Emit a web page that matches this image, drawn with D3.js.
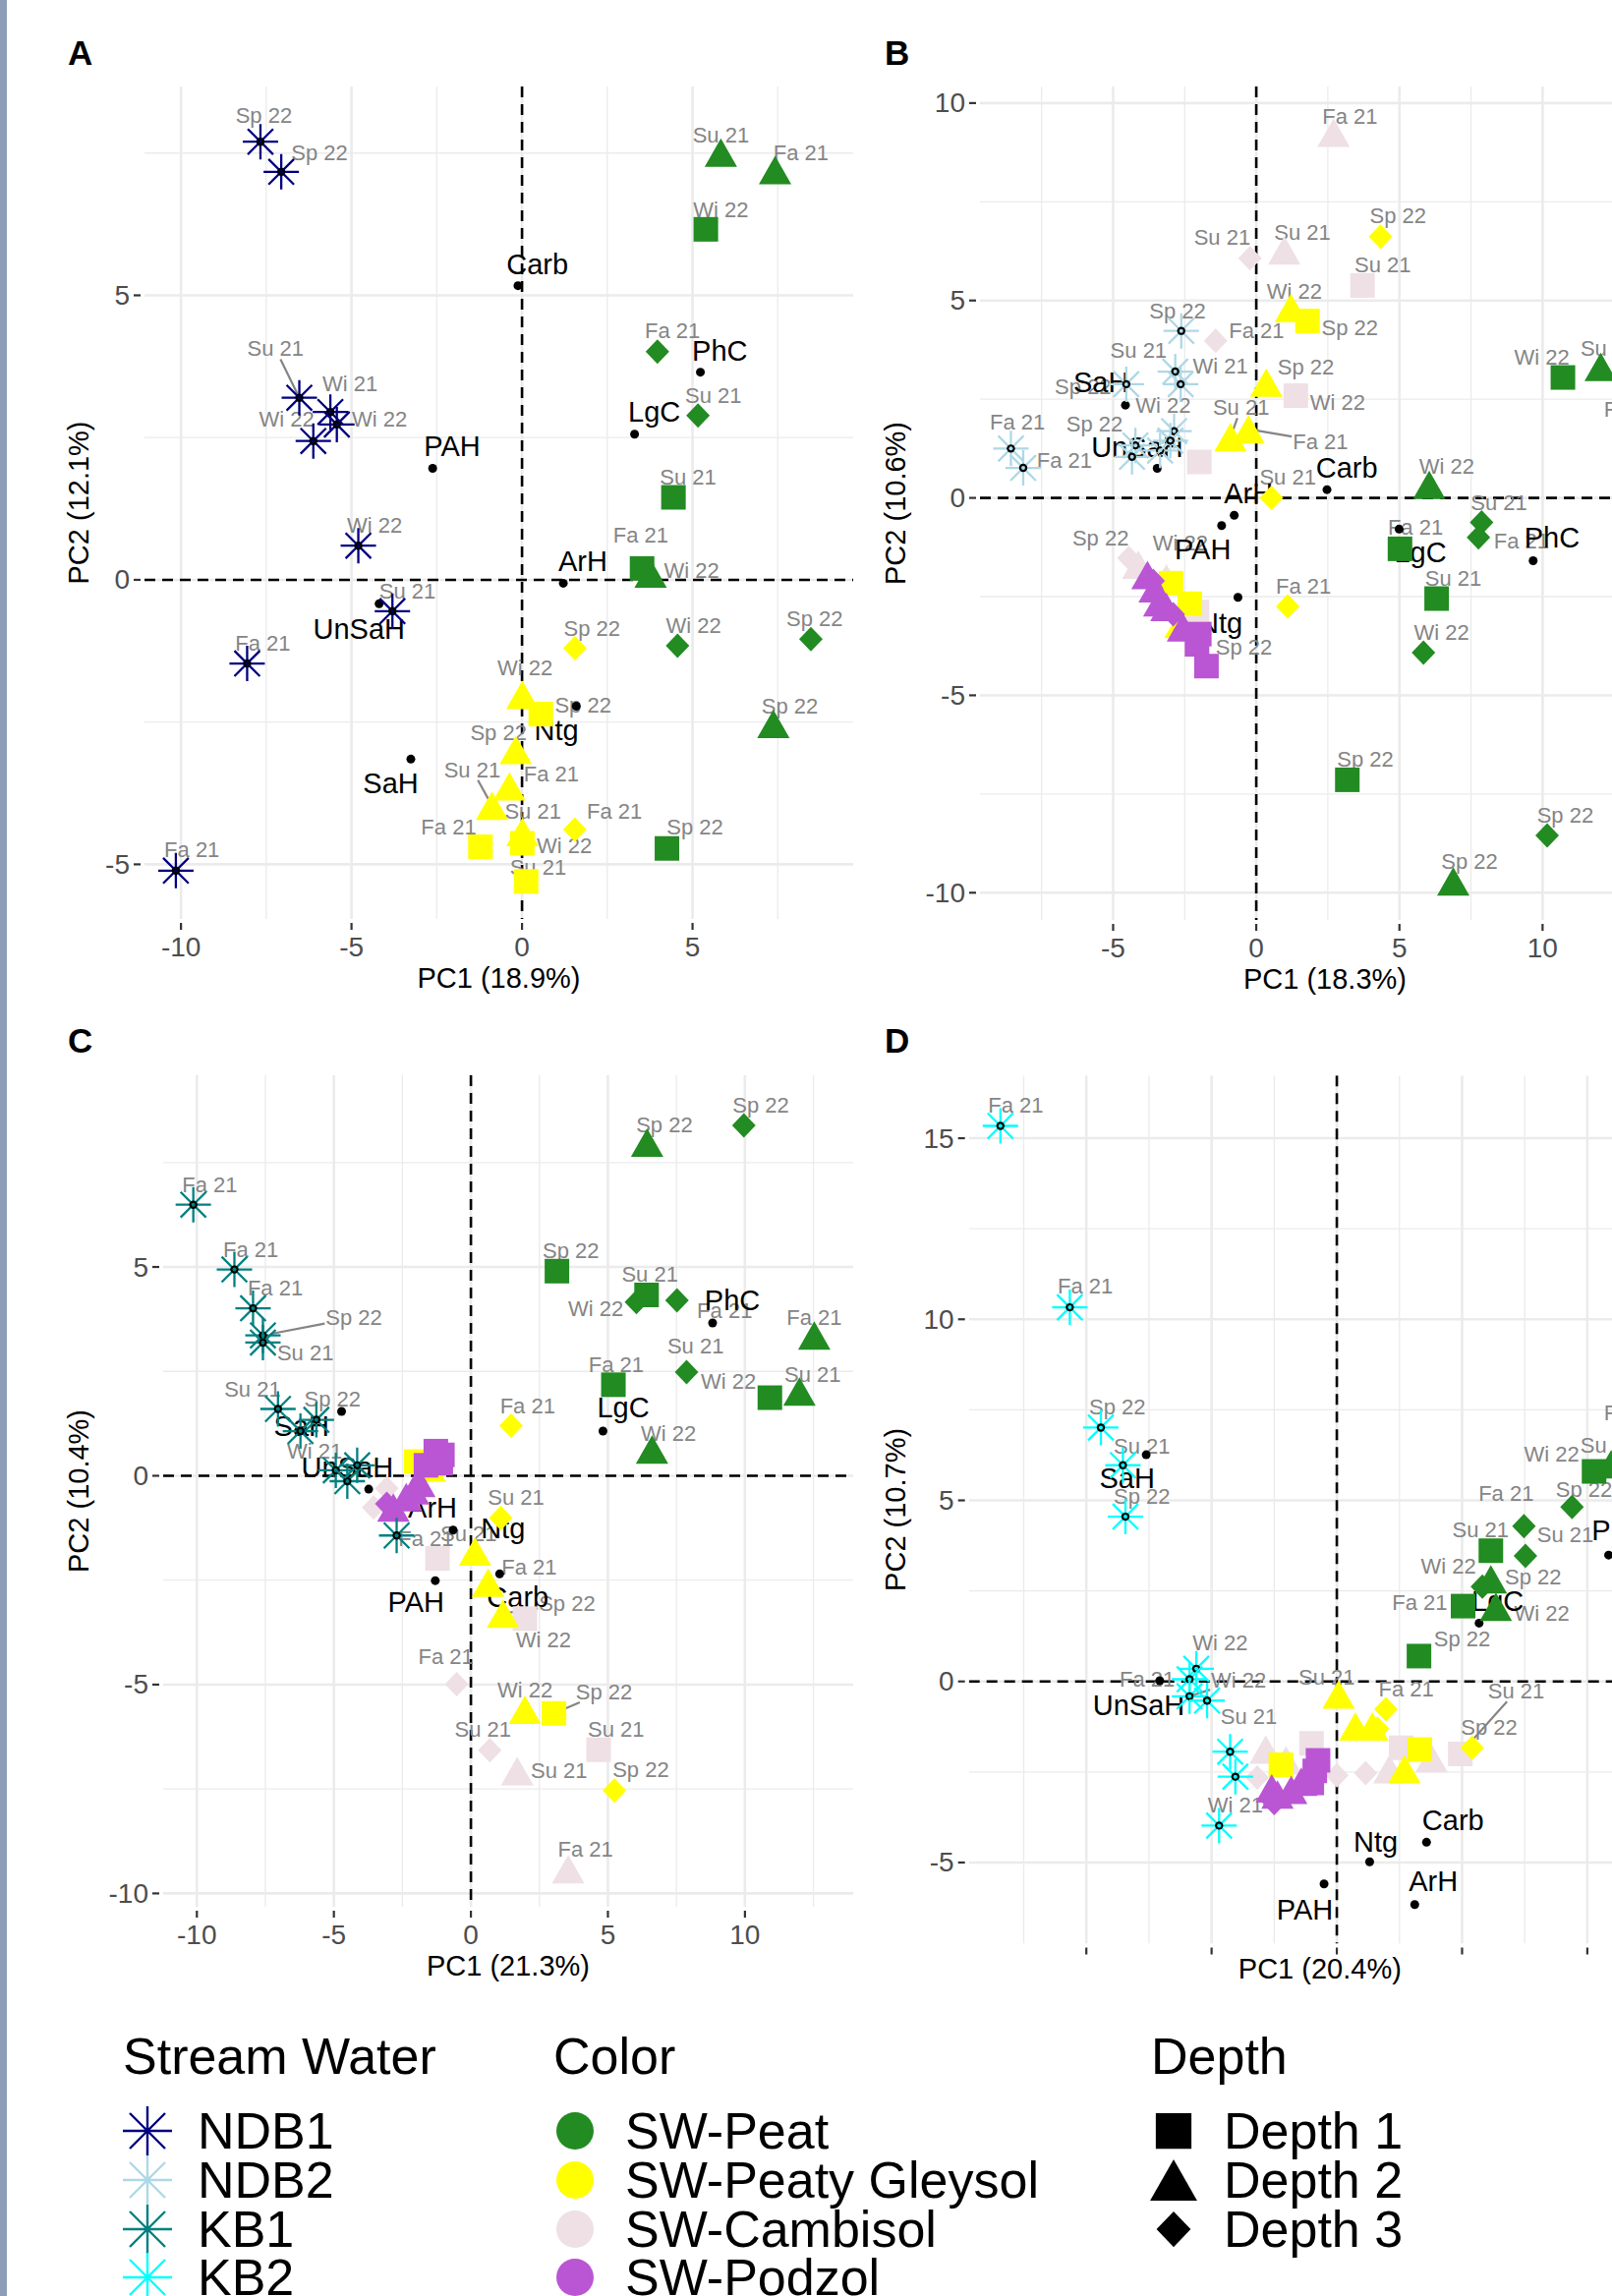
<!DOCTYPE html>
<html><head><meta charset="utf-8">
<script src="https://cdn.jsdelivr.net/npm/d3@7"></script>
<style>body{margin:0;background:#fff}svg{display:block}</style>
</head><body>
<svg id="c" width="1640" height="2336"></svg>
<script>
// ---------- DATA ----------
// sample rows: [group, depthShape(S=Depth1,T=Depth2,D=Depth3,X=stream), PC1, PC2, label, labelPC1, labelPC2, segment]
const samplesA = [
['NDB1','X',-7.67,7.70,'Sp 22',-7.57,8.16,0],
['NDB1','X',-7.06,7.17,'Sp 22',-5.94,7.51,0],
['NDB1','X',-6.53,3.20,'Su 21',-7.23,4.06,1],
['NDB1','X',-5.62,2.95,'Wi 21',-5.04,3.44,0],
['NDB1','X',-5.43,2.73,'Wi 22',-4.18,2.82,0],
['NDB1','X',-6.12,2.44,'Wi 22',-6.90,2.82,0],
['NDB1','X',-4.80,0.60,'Wi 22',-4.32,0.96,0],
['NDB1','X',-3.80,-0.55,'Su 21',-3.36,-0.20,0],
['NDB1','X',-8.06,-1.47,'Fa 21',-7.60,-1.11,0],
['NDB1','X',-10.15,-5.11,'Fa 21',-9.68,-4.75,0],
['Peat','T',5.83,7.51,'Su 21',5.83,7.81,0],
['Peat','T',7.42,7.20,'Fa 21',8.18,7.50,0],
['Peat','S',5.39,6.16,'Wi 22',5.83,6.51,0],
['Peat','D',3.97,4.01,'Fa 21',4.41,4.38,0],
['Peat','D',5.16,2.89,'Su 21',5.61,3.24,0],
['Peat','S',4.44,1.45,'Su 21',4.87,1.80,0],
['Peat','S',3.52,0.20,'Fa 21',3.48,0.78,0],
['Peat','T',3.77,0.11,'Wi 22',4.97,0.16,0],
['Peat','D',4.56,-1.16,'Wi 22',5.03,-0.81,0],
['Peat','D',8.47,-1.04,'Sp 22',8.58,-0.69,0],
['Peat','T',7.37,-2.53,'Sp 22',7.85,-2.22,0],
['Peat','S',4.25,-4.72,'Sp 22',5.07,-4.35,0],
['Gleysol','D',1.55,-1.20,'Sp 22',2.05,-0.85,0],
['Gleysol','T',0.01,-2.02,'Wi 22',0.09,-1.55,0],
['Gleysol','S',0.55,-2.36,'Sp 22',1.79,-2.20,0],
['Gleysol','T',-0.18,-2.99,'Sp 22',-0.69,-2.68,0],
['Gleysol','T',-0.37,-3.63,'Fa 21',0.86,-3.42,0],
['Gleysol','T',-0.88,-3.97,'Su 21',-1.46,-3.34,1],
['Gleysol','D',1.55,-4.39,'Fa 21',2.71,-4.06,0],
['Gleysol','T',0.01,-4.43,'Su 21',0.32,-4.06,0],
['Gleysol','S',-1.22,-4.69,'Fa 21',-2.15,-4.35,0],
['Gleysol','S',0.01,-4.63,'Wi 22',1.24,-4.68,0],
['Gleysol','S',0.12,-5.30,'Su 21',0.47,-5.06,0]
];
// loading rows: [variable, PC1, PC2, labelPC1, labelPC2]
const loadingsA = [
['Carb',-0.12,5.17,0.45,5.55],
['PhC',5.23,3.65,5.80,4.03],
['LgC',3.30,2.56,3.88,2.95],
['PAH',-2.62,1.96,-2.05,2.34],
['ArH',1.21,-0.06,1.78,0.33],
['UnSaH',-4.19,-0.42,-4.78,-0.86],
['SaH',-3.26,-3.15,-3.85,-3.57],
['Ntg',1.59,-2.22,1.01,-2.65]
];

const samplesB = [
['NDB2','X',-2.62,4.23,'Sp 22',-2.75,4.73,0],
['NDB2','X',-2.83,3.20,'Su 21',-4.11,3.73,0],
['NDB2','X',-2.64,2.88,'Wi 21',-1.25,3.34,0],
['NDB2','X',-4.54,2.88,'Sp 22',-6.05,2.82,0],
['NDB2','X',-2.87,1.69,'Wi 22',-3.25,2.35,0],
['NDB2','X',-8.57,1.25,'Fa 21',-8.34,1.91,0],
['NDB2','X',-8.14,0.76,'Fa 21',-6.70,0.96,0],
['NDB2','X',-4.22,1.33,'Sp 22',-5.65,1.88,0],
['NDB2','X',-4.34,1.04,'',null,null,0],
['NDB2','X',-3.36,1.20,'',null,null,0],
['NDB2','X',-3.00,1.45,'',null,null,0],
['Peat','S',10.71,3.05,'Wi 22',9.97,3.57,0],
['Peat','T',12.03,3.32,'Su 21',12.31,3.78,0],
['Peat','T',13.30,1.70,'Fa 21',13.11,2.24,0],
['Peat','T',6.04,0.33,'Wi 22',6.65,0.79,0],
['Peat','D',7.87,-0.62,'Su 21',8.48,-0.12,0],
['Peat','D',7.76,-1.00,'Fa 21',9.26,-1.09,0],
['Peat','S',5.02,-1.29,'Fa 21',5.56,-0.75,0],
['Peat','S',6.30,-2.55,'Su 21',6.88,-2.04,0],
['Peat','D',5.84,-3.92,'Wi 22',6.47,-3.41,0],
['Peat','S',3.18,-7.14,'Sp 22',3.81,-6.62,0],
['Peat','D',10.16,-8.55,'Sp 22',10.79,-8.04,0],
['Peat','T',6.88,-9.71,'Sp 22',7.45,-9.21,0],
['Gleysol','D',4.34,6.62,'Sp 22',4.95,7.14,0],
['Gleysol','T',1.21,4.81,'Wi 22',1.33,5.23,0],
['Gleysol','S',1.79,4.48,'Sp 22',3.27,4.30,0],
['Gleysol','T',0.35,2.92,'Sp 22',1.73,3.32,0],
['Gleysol','T',-0.27,1.74,'Fa 21',2.24,1.43,1],
['Gleysol','T',-0.90,1.54,'Su 21',-0.53,2.28,1],
['Gleysol','D',0.53,0.00,'Su 21',1.10,0.52,0],
['Gleysol','D',1.10,-2.75,'Fa 21',1.65,-2.23,0],
['Gleysol','S',-2.98,-2.16,'',null,null,0],
['Gleysol','S',-2.32,-2.68,'',null,null,0],
['Gleysol','T',-2.65,-3.19,'',null,null,0],
['Cambisol','T',2.70,9.25,'Fa 21',3.27,9.67,0],
['Cambisol','T',0.98,6.27,'Su 21',1.61,6.72,0],
['Cambisol','S',3.71,5.38,'Su 21',4.42,5.89,0],
['Cambisol','D',-0.22,6.07,'Su 21',-1.19,6.60,0],
['Cambisol','D',-1.42,3.98,'Fa 21',0.01,4.23,0],
['Cambisol','S',1.38,2.59,'Wi 22',2.84,2.41,0],
['Cambisol','S',-1.99,0.91,'',null,null,0],
['Cambisol','D',-4.45,-1.52,'Sp 22',-5.44,-1.01,0],
['Cambisol','T',-4.12,-1.69,'',null,null,0],
['Cambisol','T',-3.14,-2.04,'Wi 22',-2.65,-1.14,0],
['Cambisol','S',-2.07,-2.89,'Sp 22',-0.43,-3.78,0],
['Podzol','T',-3.80,-1.95,'',null,null,0],
['Podzol','T',-3.55,-2.29,'',null,null,0],
['Podzol','T',-3.39,-2.64,'',null,null,0],
['Podzol','T',-3.14,-2.76,'',null,null,0],
['Podzol','T',-2.56,-3.28,'',null,null,0],
['Podzol','S',-1.99,-3.45,'',null,null,0],
['Podzol','S',-2.07,-3.71,'',null,null,0],
['Podzol','S',-1.74,-4.26,'',null,null,0],
['Podzol','D',-3.60,-2.10,'',null,null,0],
['Podzol','D',-2.90,-2.95,'',null,null,0]
];
const loadingsB = [
['SaH',-4.57,2.35,-5.42,2.92],
['UnSaH',-3.46,0.75,-4.16,1.29],
['ArH',-0.77,-0.44,-0.27,0.12],
['PAH',-1.21,-0.70,-1.87,-1.31],
['Ntg',-0.64,-2.52,-1.25,-3.18],
['Carb',2.47,0.21,3.16,0.75],
['LgC',4.99,-0.79,5.73,-1.39],
['PhC',9.67,-1.59,10.33,-1.01]
];

const samplesC = [
['KB1','X',-10.13,6.49,'Fa 21',-9.53,6.97,0],
['KB1','X',-8.63,4.94,'Fa 21',-8.03,5.42,0],
['KB1','X',-7.95,4.01,'Fa 21',-7.14,4.49,0],
['KB1','X',-7.59,3.36,'Sp 22',-4.27,3.78,1],
['KB1','X',-7.59,3.19,'Su 21',-6.04,2.94,0],
['KB1','X',-7.04,1.60,'Su 21',-7.97,2.06,0],
['KB1','X',-5.64,1.34,'Sp 22',-5.05,1.83,0],
['KB1','X',-6.22,1.07,'Wi 21',-5.70,0.59,0],
['KB1','X',-4.93,0.13,'',null,null,0],
['KB1','X',-4.51,-0.13,'',null,null,0],
['KB1','X',-4.15,0.25,'',null,null,0],
['KB1','X',-2.71,-1.43,'Fa 21',-1.64,-1.51,0],
['Peat','T',6.43,7.98,'Sp 22',7.06,8.40,0],
['Peat','D',9.96,8.39,'Sp 22',10.58,8.87,0],
['Peat','S',3.14,4.90,'Sp 22',3.65,5.40,0],
['Peat','S',6.41,4.33,'Su 21',6.53,4.83,0],
['Peat','D',6.04,4.16,'Wi 22',4.56,3.99,0],
['Peat','D',7.52,4.20,'Fa 21',9.26,3.96,0],
['Peat','T',12.53,3.36,'Fa 21',12.53,3.78,0],
['Peat','D',7.87,2.48,'Su 21',8.20,3.11,0],
['Peat','S',5.20,2.18,'Fa 21',5.30,2.67,0],
['Peat','S',10.91,1.87,'Wi 22',9.40,2.27,0],
['Peat','T',11.99,2.02,'Su 21',12.47,2.42,0],
['Peat','T',6.61,0.63,'Wi 22',7.21,1.01,0],
['Gleysol','D',1.47,1.20,'Fa 21',2.07,1.68,0],
['Gleysol','D',1.09,-1.01,'Su 21',1.65,-0.51,0],
['Gleysol','T',0.15,-1.81,'Su 21',-0.08,-1.39,0],
['Gleysol','T',0.63,-2.56,'Fa 21',2.13,-2.19,0],
['Gleysol','T',1.17,-3.30,'Sp 22',3.51,-3.07,1],
['Gleysol','T',1.97,-5.60,'Wi 22',1.97,-5.14,0],
['Gleysol','S',3.03,-5.69,'Sp 22',4.86,-5.18,1],
['Gleysol','D',5.24,-7.54,'Sp 22',6.20,-7.04,0],
['Gleysol','S',-2.00,0.34,'',null,null,0],
['Gleysol','T',-1.50,0.20,'',null,null,0],
['Cambisol','S',1.97,-3.42,'Wi 22',2.65,-3.93,0],
['Cambisol','D',-0.52,-4.99,'Fa 21',-0.91,-4.32,0],
['Cambisol','D',0.69,-6.57,'Su 21',0.44,-6.08,0],
['Cambisol','S',4.66,-6.56,'Su 21',5.30,-6.07,0],
['Cambisol','T',1.69,-7.07,'Su 21',3.22,-7.07,0],
['Cambisol','T',3.55,-9.42,'Fa 21',4.18,-8.95,0],
['Cambisol','S',-1.22,-1.98,'',null,null,0],
['Cambisol','D',-3.55,-0.76,'',null,null,0],
['Cambisol','D',-3.07,-0.30,'',null,null,0],
['Podzol','T',-2.83,-0.76,'',null,null,0],
['Podzol','T',-2.36,-0.51,'',null,null,0],
['Podzol','T',-1.88,-0.17,'',null,null,0],
['Podzol','T',-2.10,-0.35,'',null,null,0],
['Podzol','S',-1.28,0.59,'',null,null,0],
['Podzol','S',-1.04,0.50,'',null,null,0],
['Podzol','S',-1.64,0.25,'',null,null,0],
['Podzol','S',-1.10,0.30,'',null,null,0],
['Podzol','D',-3.07,-0.67,'',null,null,0]
];
const loadingsC = [
['SaH',-4.72,1.54,-6.18,1.19],
['UnSaH',-3.73,-0.32,-4.51,0.21],
['ArH',-1.90,-0.30,-1.40,-0.76],
['PAH',-1.30,-2.51,-2.00,-3.03],
['Ntg',-0.65,-1.30,1.17,-1.26],
['Carb',1.05,-2.35,1.71,-2.90],
['LgC',4.82,1.07,5.56,1.64],
['PhC',8.82,3.66,9.54,4.20]
];

const samplesD = [
['KB2','X',-13.43,15.34,'Fa 21',-12.82,15.90,0],
['KB2','X',-10.66,10.33,'Fa 21',-10.04,10.91,0],
['KB2','X',-9.42,7.01,'Sp 22',-8.76,7.57,0],
['KB2','X',-8.54,5.97,'Su 21',-7.78,6.50,0],
['KB2','X',-8.44,4.55,'Sp 22',-7.78,5.12,0],
['KB2','X',-5.61,0.35,'Wi 22',-4.66,1.06,0],
['KB2','X',-5.88,0.06,'Fa 21',-7.57,0.06,0],
['KB2','X',-5.88,-0.41,'Wi 22',-3.92,0.03,1],
['KB2','X',-5.18,-0.53,'Su 21',-3.51,-0.97,0],
['KB2','X',-4.26,-1.94,'',null,null,0],
['KB2','X',-4.05,-2.63,'',null,null,0],
['KB2','X',-4.70,-3.98,'Wi 21',-4.05,-3.41,0],
['Peat','S',10.27,5.80,'Wi 22',8.58,6.27,0],
['Peat','T',10.95,6.00,'Su 21',10.85,6.53,0],
['Peat','T',11.90,6.90,'Fa 21',11.77,7.41,0],
['Peat','D',9.39,4.82,'Sp 22',9.87,5.29,0],
['Peat','D',7.47,4.29,'Fa 21',6.76,5.18,0],
['Peat','D',7.53,3.47,'Su 21',9.12,4.04,0],
['Peat','S',6.15,3.61,'Su 21',5.74,4.18,0],
['Peat','T',6.15,2.82,'Sp 22',7.84,2.88,0],
['Peat','D',5.81,2.62,'Wi 22',4.46,3.18,0],
['Peat','S',5.04,2.08,'Fa 21',3.31,2.18,0],
['Peat','T',6.35,2.06,'Wi 22',8.18,1.88,0],
['Peat','S',3.28,0.70,'Sp 22',5.00,1.18,0],
['Gleysol','T',0.07,-0.36,'Su 21',-0.40,0.12,0],
['Gleysol','D',1.96,-0.77,'Fa 21',2.77,-0.20,0],
['Gleysol','T',0.74,-1.24,'',null,null,0],
['Gleysol','T',1.42,-1.24,'',null,null,0],
['Gleysol','D',1.62,-1.30,'',null,null,0],
['Gleysol','D',5.40,-1.83,'Sp 22',6.08,-1.26,0],
['Gleysol','S',3.31,-1.88,'',null,null,0],
['Gleysol','T',2.70,-2.42,'',null,null,0],
['Gleysol','S',-2.23,-2.30,'',null,null,0],
['Cambisol','T',-2.84,-1.88,'',null,null,0],
['Cambisol','S',-1.01,-1.71,'',null,null,0],
['Cambisol','D',-3.18,-2.65,'',null,null,0],
['Cambisol','D',0.00,-2.59,'',null,null,0],
['Cambisol','D',1.15,-2.53,'',null,null,0],
['Cambisol','T',2.10,-2.42,'',null,null,0],
['Cambisol','S',2.57,-1.83,'',null,null,0],
['Cambisol','T',3.78,-2.12,'',null,null,0],
['Cambisol','S',4.93,-2.00,'Su 21',7.16,-0.27,1],
['Cambisol','T',-2.03,-2.18,'',null,null,0],
['Podzol','S',-0.88,-2.47,'',null,null,0],
['Podzol','S',-0.75,-2.18,'',null,null,0],
['Podzol','S',-1.00,-2.80,'',null,null,0],
['Podzol','T',-2.37,-3.12,'',null,null,0],
['Podzol','T',-1.82,-2.99,'',null,null,0],
['Podzol','T',-1.42,-2.77,'',null,null,0],
['Podzol','T',-2.60,-2.95,'',null,null,0],
['Podzol','D',-2.50,-3.36,'',null,null,0]
];
const loadingsD = [
['SaH',-7.61,6.26,-8.37,5.61],
['UnSaH',-7.07,0.02,-7.91,-0.67],
['PAH',-0.51,-5.59,-1.28,-6.30],
['Ntg',1.31,-4.98,1.55,-4.42],
['Carb',3.58,-4.44,4.64,-3.83],
['ArH',3.11,-6.16,3.85,-5.53],
['LgC',5.68,1.61,6.42,2.23],
['PhC',10.85,3.49,11.28,4.18]
];

// tick values
const xTicksA = [-10,-5,0,5], yTicksA = [-5,0,5];
const xTicksB = [-5,0,5,10], yTicksB = [-10,-5,0,5,10];
const xTicksC = [-10,-5,0,5,10], yTicksC = [-10,-5,0,5];
const xTicksD = [-10,-5,0,5,10], yTicksD = [-5,0,5,10,15];
const axisTitles = {A:['PC1 (18.9%)','PC2 (12.1%)'],B:['PC1 (18.3%)','PC2 (10.6%)'],C:['PC1 (21.3%)','PC2 (10.4%)'],D:['PC1 (20.4%)','PC2 (10.7%)']};

// legend
const streamSites = ['NDB1','NDB2','KB1','KB2'];
const soilNames = ['SW-Peat','SW-Peaty Gleysol','SW-Cambisol','SW-Podzol'];
const soilKeys = ['Peat','Gleysol','Cambisol','Podzol'];
const depthNames = ['Depth 1','Depth 2','Depth 3'];
const depthKeys = ['S','T','D'];

// ---------- STYLE ----------
const groupColor = {Peat:'#228B22',Gleysol:'#FFFF00',Cambisol:'#EEE0E5',Podzol:'#BA55D3',
  NDB1:'#000080',NDB2:'#ADD8E6',KB1:'#008080',KB2:'#00FFFF'};
const FONT = '"Liberation Sans", Arial, Helvetica, sans-serif';
const svg = d3.select('#c').style('font-family',FONT);

svg.append('rect').attr('x',0).attr('y',0).attr('width',1640).attr('height',2336).attr('fill','#fff');
svg.append('rect').attr('x',0).attr('y',0).attr('width',7).attr('height',2336).attr('fill','#8E9DB8');

function shapePath(s, k){
  k = k||1;
  if(s==='S'){const h=12.5*k;return `M${-h},${-h}h${2*h}v${2*h}h${-2*h}Z`;}
  if(s==='T'){const w=16.5*k,h=14.5*k;return `M0,${-h}L${w},${h}L${-w},${h}Z`;}
  if(s==='D'){const w=12*k,h=12.5*k;return `M0,${-h}L${w},0L0,${h}L${-w},0Z`;}
}
function starPath(r){
  const d=r*0.72;
  return `M${-r},0L${r},0M0,${-r}L0,${r}M${-d},${-d}L${d},${d}M${-d},${d}L${d},${-d}`;
}

const panels = [
 {id:'A',S:samplesA,L:loadingsA,xt:xTicksA,yt:yTicksA,rect:[147,868,88,935],xd:[-11.07,9.71],yd:[-5.96,8.67],xlab:true,lx:69,ly:66,ytx:80,xty:1005},
 {id:'B',S:samplesB,L:loadingsB,xt:xTicksB,yt:yTicksB,rect:[997,1699,88,936],xd:[-9.65,14.45],yd:[-10.69,10.42],xlab:true,lx:900,ly:66,ytx:911,xty:1006},
 {id:'C',S:samplesC,L:loadingsC,xt:xTicksC,yt:yTicksC,rect:[166,868,1094,1940],xd:[-11.23,13.95],yd:[-10.32,9.59],xlab:true,lx:69,ly:1071,ytx:80,xty:2010},
 {id:'D',S:samplesD,L:loadingsD,xt:xTicksD,yt:yTicksD,rect:[985.7,1700,1094.3,1977.5],xd:[-14.69,13.34],yd:[-7.24,16.73],xlab:false,lx:900,ly:1071,ytx:911,xty:2013}
];

panels.forEach(p=>{
  const [L,R,T,B]=p.rect;
  const x=d3.scaleLinear().domain(p.xd).range([L,R]);
  const y=d3.scaleLinear().domain(p.yd).range([B,T]);
  const g=svg.append('g');
  const clipId='clip'+p.id;
  svg.append('defs').append('clipPath').attr('id',clipId).append('rect')
    .attr('x',L).attr('y',T).attr('width',R-L).attr('height',B-T);
  const pg=g.append('g').attr('clip-path',`url(#${clipId})`);

  const minorX=[], minorY=[];
  for(let v=Math.ceil(p.xd[0]/2.5)*2.5; v<=p.xd[1]; v+=2.5){ if(Math.abs(v%5)>0.01) minorX.push(v); }
  for(let v=Math.ceil(p.yd[0]/2.5)*2.5; v<=p.yd[1]; v+=2.5){ if(Math.abs(v%5)>0.01) minorY.push(v); }
  const majorX=d3.range(Math.ceil(p.xd[0]/5)*5, p.xd[1]+0.001, 5);
  const majorY=d3.range(Math.ceil(p.yd[0]/5)*5, p.yd[1]+0.001, 5);
  pg.selectAll('.mnx').data(minorX).enter().append('line')
    .attr('x1',d=>x(d)).attr('x2',d=>x(d)).attr('y1',T).attr('y2',B).attr('stroke','#EBEBEB').attr('stroke-width',1.3);
  pg.selectAll('.mny').data(minorY).enter().append('line')
    .attr('y1',d=>y(d)).attr('y2',d=>y(d)).attr('x1',L).attr('x2',R).attr('stroke','#EBEBEB').attr('stroke-width',1.3);
  pg.selectAll('.mjx').data(majorX).enter().append('line')
    .attr('x1',d=>x(d)).attr('x2',d=>x(d)).attr('y1',T).attr('y2',B).attr('stroke','#EBEBEB').attr('stroke-width',2.6);
  pg.selectAll('.mjy').data(majorY).enter().append('line')
    .attr('y1',d=>y(d)).attr('y2',d=>y(d)).attr('x1',L).attr('x2',R).attr('stroke','#EBEBEB').attr('stroke-width',2.6);

  pg.append('line').attr('x1',L).attr('x2',R).attr('y1',y(0)).attr('y2',y(0))
    .attr('stroke','#000').attr('stroke-width',2.6).attr('stroke-dasharray','11,7');
  pg.append('line').attr('x1',x(0)).attr('x2',x(0)).attr('y1',T).attr('y2',B)
    .attr('stroke','#000').attr('stroke-width',2.6).attr('stroke-dasharray','11,7');

  const ax=g.append('g');
  p.xt.forEach(v=>{
    ax.append('line').attr('x1',x(v)).attr('x2',x(v)).attr('y1',B+4).attr('y2',B+11).attr('stroke','#333').attr('stroke-width',2.2);
    if(p.xlab) ax.append('text').attr('x',x(v)).attr('y',B+28).attr('text-anchor','middle').attr('dominant-baseline','central')
      .attr('font-size',28).attr('fill','#4D4D4D').text(v);
  });
  p.yt.forEach(v=>{
    ax.append('line').attr('x1',L-11).attr('x2',L-4).attr('y1',y(v)).attr('y2',y(v)).attr('stroke','#333').attr('stroke-width',2.2);
    ax.append('text').attr('x',L-15).attr('y',y(v)).attr('text-anchor','end').attr('dominant-baseline','central')
      .attr('font-size',28).attr('fill','#4D4D4D').text(v);
  });
  ax.append('text').attr('x',(L+R)/2).attr('y',p.xty).attr('text-anchor','middle').attr('font-size',29).attr('fill','#000').text(axisTitles[p.id][0]);
  ax.append('text').attr('transform',`translate(${p.ytx},${(T+B)/2}) rotate(-90)`).attr('text-anchor','middle')
    .attr('dominant-baseline','central').attr('font-size',29).attr('fill','#000').text(axisTitles[p.id][1]);
  ax.append('text').attr('x',p.lx).attr('y',p.ly).attr('font-size',35).attr('font-weight','bold').attr('fill','#000').text(p.id);

  const segG=pg.append('g'), labG=pg.append('g'), loadLabG=pg.append('g');
  p.S.forEach(d=>{
    if(!d[4]) return;
    const t=labG.append('text').attr('x',x(d[5])).attr('y',y(d[6])).attr('text-anchor','middle')
      .attr('dominant-baseline','central').attr('font-size',22).attr('fill','#858585').text(d[4]);
    if(d[7]){
      const bb=t.node().getBBox();
      const px=x(d[2]),py=y(d[3]),cx=x(d[5]),cy=y(d[6]);
      const dx=px-cx,dy=py-cy;
      const hw=bb.width/2+1,hh=bb.height/2-2;
      const s=Math.min(Math.abs(dx)>1e-6?hw/Math.abs(dx):1e9, Math.abs(dy)>1e-6?hh/Math.abs(dy):1e9);
      const sx=cx+dx*Math.min(s,1), sy=cy+dy*Math.min(s,1);
      segG.append('line').attr('x1',sx).attr('y1',sy).attr('x2',px-dx*0.08).attr('y2',py-dy*0.08)
        .attr('stroke','#858585').attr('stroke-width',2.2);
    }
  });
  p.L.forEach(d=>{
    loadLabG.append('text').attr('x',x(d[3])).attr('y',y(d[4])).attr('text-anchor','middle')
      .attr('dominant-baseline','central').attr('font-size',29).attr('fill','#000').text(d[0]);
  });
  pg.selectAll('.ld').data(p.L).enter().append('circle').attr('cx',d=>x(d[1])).attr('cy',d=>y(d[2])).attr('r',4.5).attr('fill','#000');

  const order=['Cambisol','Gleysol','Podzol','Peat'];
  const soils=p.S.filter(d=>d[1]!=='X').sort((a,b)=>order.indexOf(a[0])-order.indexOf(b[0]));
  pg.selectAll('.sp').data(soils).enter().append('path')
    .attr('transform',d=>`translate(${x(d[2])},${y(d[3])})`).attr('d',d=>shapePath(d[1])).attr('fill',d=>groupColor[d[0]]);
  const stars=p.S.filter(d=>d[1]==='X');
  const sg=pg.selectAll('.st').data(stars).enter().append('g').attr('transform',d=>`translate(${x(d[2])},${y(d[3])})`);
  sg.append('path').attr('d',starPath(18)).attr('stroke',d=>groupColor[d[0]]).attr('stroke-width',2.3).attr('fill','none');
  sg.append('circle').attr('r',4.2).attr('fill','#000');
  sg.append('circle').attr('r',2).attr('fill',d=>d[0]==='NDB1'?'#000050':groupColor[d[0]]);
});

// ---------- LEGEND ----------
const leg=svg.append('g').attr('font-size',52).attr('fill','#000');
const rowsY=[2168,2218,2268,2317];
leg.append('text').attr('x',125).attr('y',2110).text('Stream Water');
streamSites.forEach((s,i)=>{
  leg.append('path').attr('transform',`translate(150,${rowsY[i]})`).attr('d',starPath(25))
    .attr('stroke',groupColor[s]).attr('stroke-width',2.4).attr('fill','none');
  leg.append('text').attr('x',201).attr('y',rowsY[i]).attr('dominant-baseline','central').text(s);
});
leg.append('text').attr('x',563).attr('y',2110).text('Color');
soilNames.forEach((s,i)=>{
  leg.append('circle').attr('cx',585).attr('cy',rowsY[i]).attr('r',19).attr('fill',groupColor[soilKeys[i]]);
  leg.append('text').attr('x',636).attr('y',rowsY[i]).attr('dominant-baseline','central').text(s);
});
leg.append('text').attr('x',1171).attr('y',2110).text('Depth');
depthNames.forEach((s,i)=>{
  leg.append('path').attr('transform',`translate(1194,${rowsY[i]})`).attr('d',shapePath(depthKeys[i],1.45)).attr('fill','#000');
  leg.append('text').attr('x',1245).attr('y',rowsY[i]).attr('dominant-baseline','central').text(s);
});
</script>
</body></html>
